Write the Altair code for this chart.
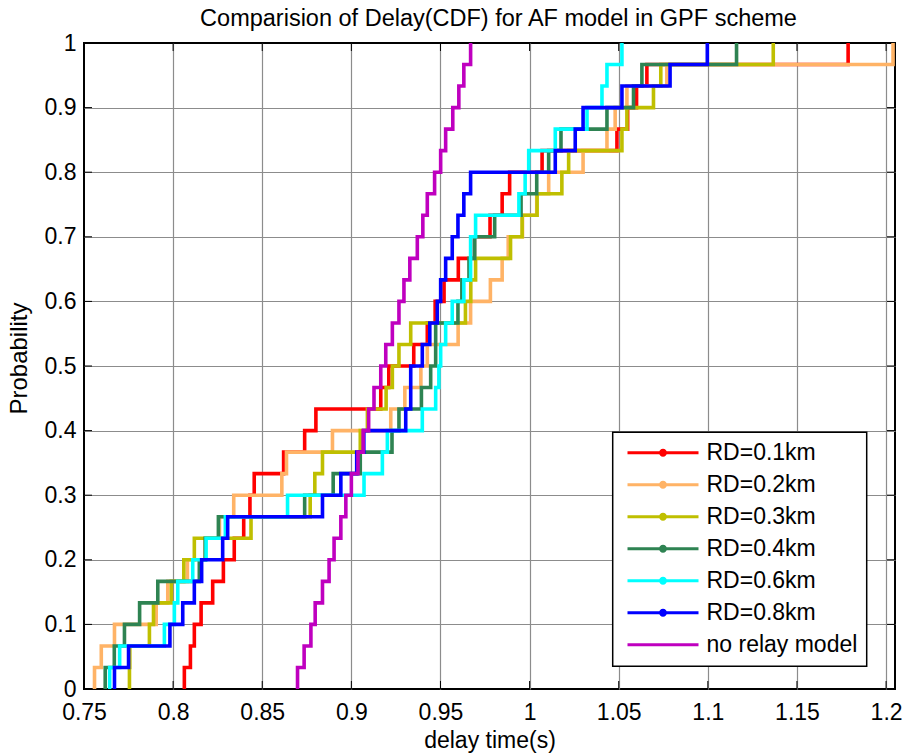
import altair as alt
import pandas as pd

# ---------------- data ----------------
series_names = ["RD=0.1km", "RD=0.2km", "RD=0.3km", "RD=0.4km",
                "RD=0.6km", "RD=0.8km", "no relay model"]
series_colors = ["#ff0000", "#ffb366", "#bfbf00", "#2e8352",
                 "#00ffff", "#0000ff", "#bf00bf"]

delay_rd01 = [0.8063, 0.8097, 0.8119, 0.8157, 0.8222, 0.8282, 0.8343, 0.8396,
              0.8431, 0.8455, 0.8620, 0.8738, 0.8801, 0.9165, 0.9210, 0.9350,
              0.9426, 0.9470, 0.9520, 0.9600, 0.9690, 0.9778, 0.9846, 0.9888,
              1.0070, 1.0490, 1.0550, 1.0600, 1.0658, 1.1787]
delay_rd02 = [0.7559, 0.7597, 0.7671, 0.7905, 0.7970, 0.8080, 0.8180, 0.8260,
              0.8340, 0.8610, 0.8636, 0.8894, 0.9221, 0.9300, 0.9390, 0.9426,
              0.9599, 0.9669, 0.9780, 0.9846, 0.9880, 0.9960, 1.0040, 1.0107,
              1.0300, 1.0434, 1.0480, 1.0546, 1.0770, 1.2039]
delay_rd03 = [0.7755, 0.7757, 0.7867, 0.7890, 0.7990, 0.8060, 0.8119, 0.8437,
              0.8769, 0.8795, 0.8838, 0.9050, 0.9090, 0.9195, 0.9230, 0.9267,
              0.9333, 0.9640, 0.9670, 0.9697, 0.9893, 0.9958, 1.0042, 1.0181,
              1.0219, 1.0518, 1.0546, 1.0695, 1.0736, 1.1367]
delay_rd04 = [0.7619, 0.7670, 0.7727, 0.7812, 0.7914, 0.8147, 0.8180, 0.8254,
              0.8738, 0.8898, 0.9050, 0.9228, 0.9267, 0.9393, 0.9445, 0.9473,
              0.9473, 0.9598, 0.9620, 0.9660, 0.9692, 0.9804, 0.9952, 1.0040,
              1.0107, 1.0176, 1.0434, 1.0583, 1.0630, 1.1161]
delay_rd06 = [0.7644, 0.7700, 0.7951, 0.8007, 0.8026, 0.8110, 0.8185, 0.8293,
              0.8642, 0.9071, 0.9174, 0.9202, 0.9398, 0.9473, 0.9491, 0.9501,
              0.9529, 0.9566, 0.9631, 0.9669, 0.9669, 0.9697, 0.9940, 0.9975,
              0.9995, 1.0144, 1.0322, 1.0406, 1.0434, 1.0518]
delay_rd08 = [0.7671, 0.7750, 0.7982, 0.8054, 0.8119, 0.8160, 0.8278, 0.8306,
              0.8838, 0.8941, 0.9030, 0.9070, 0.9305, 0.9333, 0.9333, 0.9398,
              0.9440, 0.9482, 0.9501, 0.9529, 0.9566, 0.9598, 0.9631, 0.9669,
              1.0144, 1.0256, 1.0300, 1.0518, 1.0788, 1.0997]
delay_norelay = [0.8698, 0.8735, 0.8773, 0.8797, 0.8838, 0.8875, 0.8903, 0.8941,
                 0.8969, 0.9000, 0.9037, 0.9066, 0.9097, 0.9127, 0.9165, 0.9193,
                 0.9230, 0.9267, 0.9295, 0.9328, 0.9370, 0.9401, 0.9426, 0.9467,
                 0.9501, 0.9529, 0.9569, 0.9603, 0.9631, 0.9669]

x_ticks = [0.75, 0.8, 0.85, 0.9, 0.95, 1.0, 1.05, 1.1, 1.15, 1.2]
y_ticks = [0, 0.1, 0.2, 0.3, 0.4, 0.5, 0.6, 0.7, 0.8, 0.9, 1.0]
x_domain = [0.75, 1.205]

all_delays = [delay_rd01, delay_rd02, delay_rd03, delay_rd04,
              delay_rd06, delay_rd08, delay_norelay]

# ---------------- empirical CDF table ----------------
rows = []
for name, vals in zip(series_names, all_delays):
    vs = sorted(vals)
    n = len(vs)
    rows.append({"series": name, "delay": vs[0], "prob": 0.0, "step": 0})
    for i, v in enumerate(vs, start=1):
        rows.append({"series": name, "delay": v, "prob": i / n, "step": i})
df = pd.DataFrame(rows)

FONT = "Liberation Sans"
W, H = 811, 646

x_scale = alt.Scale(domain=x_domain, nice=False, zero=False)
y_scale = alt.Scale(domain=[0, 1], nice=False, zero=False)

x_axis = alt.Axis(values=x_ticks, format="~g", title="delay time(s)",
                  labelFont=FONT, labelFontSize=23, labelColor="black",
                  labelPadding=12, labelFlush=False, ticks=False, tickSize=0,
                  domain=False, grid=True, gridColor="#8c8c8c", gridWidth=1.2,
                  gridOpacity={"condition": {"test": "datum.value <= 0.75", "value": 0}, "value": 1},
                  titleFont=FONT, titleFontSize=23, titleFontWeight="normal",
                  titleColor="black", titleY=58, titleBaseline="alphabetic")
y_axis = alt.Axis(values=y_ticks, format="~g", title="Probability",
                  labelFont=FONT, labelFontSize=23, labelColor="black",
                  labelPadding=8, labelFlush=False, ticks=False, tickSize=0,
                  domain=False, grid=True, gridColor="#8c8c8c", gridWidth=1.2,
                  gridOpacity={"condition": {"test": "datum.value <= 0 || datum.value >= 1", "value": 0}, "value": 1},
                  titleFont=FONT, titleFontSize=24, titleFontWeight="normal",
                  titleColor="black", titleAngle=270, titleX=-65, titleY=315,
                  titleBaseline="middle", titleAlign="center")

x_enc = alt.X("delay:Q", scale=x_scale, axis=x_axis)
y_enc = alt.Y("prob:Q", scale=y_scale, axis=y_axis)
color_scale = alt.Scale(domain=series_names, range=series_colors)

# legend symbols: line with a dot for RD series, plain line for "no relay"
path_dot = ("M-3.55,-0.15H3.55V0.15H-3.55Z"
            "M0.4,0A0.4,0.4,0,1,1,-0.4,0A0.4,0.4,0,1,1,0.4,0Z")
path_line = "M-3.55,-0.15H3.55V0.15H-3.55Z"
shape_paths = [path_dot] * 6 + [path_line]

legend_def = alt.Legend(title=None, orient="none", legendX=528.7, legendY=389.3,
                        labelFont=FONT, labelFontSize=23, labelColor="black",
                        labelLimit=0, symbolSize=400, symbolStrokeWidth=0,
                        symbolOffset=29.8, labelOffset=32, rowPadding=8,
                        padding=9, symbolOpacity=1)

# invisible (empty) point layer that only carries the legend; placed first
legend_layer = (
    alt.Chart(df).transform_filter("false")
    .mark_point(filled=True, opacity=1, size=400)
    .encode(x=x_enc, y=y_enc,
            color=alt.Color("series:N", scale=color_scale, legend=legend_def),
            shape=alt.Shape("series:N",
                            scale=alt.Scale(domain=series_names, range=shape_paths),
                            legend=legend_def))
)

# inward tick marks (MATLAB style) on all four sides
xt = pd.DataFrame({"delay": x_ticks})
yt = pd.DataFrame({"prob": y_ticks})
tick_layers = [
    alt.Chart(xt).mark_rule(color="black", strokeWidth=1).encode(
        x=x_enc, y=alt.value(H), y2=alt.value(H - 8)),
    alt.Chart(xt).mark_rule(color="black", strokeWidth=1).encode(
        x=x_enc, y=alt.value(0), y2=alt.value(8)),
    alt.Chart(yt).mark_rule(color="black", strokeWidth=1).encode(
        y=y_enc, x=alt.value(0), x2=alt.value(8)),
    alt.Chart(yt).mark_rule(color="black", strokeWidth=1).encode(
        y=y_enc, x=alt.value(W), x2=alt.value(W - 8)),
]

# one layer per series so the drawing order matches the reference
line_layers = []
for name in series_names:
    line_layers.append(
        alt.Chart(df).transform_filter(alt.datum.series == name)
        .mark_line(interpolate="step-after", strokeWidth=3.6)
        .encode(x=x_enc, y=y_enc,
                color=alt.Color("series:N", scale=color_scale, legend=None),
                order=alt.Order("step:Q"))
    )

chart = (
    alt.layer(legend_layer, *tick_layers, *line_layers)
    .properties(
        width=W, height=H,
        title=alt.TitleParams(
            text="Comparision of Delay(CDF) for AF model in GPF scheme",
            font=FONT, fontSize=23.5, fontWeight="normal", color="black",
            anchor="middle", frame="group", offset=5, baseline="alphabetic",
            dx=9, dy=22),
        padding={"left": 84, "top": 43, "right": 12, "bottom": 65},
        autosize=alt.AutoSizeParams(type="none"),
        background="white",
    )
    .configure_view(stroke="black", strokeWidth=2)
    .configure_legend(strokeColor="black", strokeWidth=1.5, fillColor="white",
                      cornerRadius=0)
)

chart.save("out.html", embed_options={"renderer": "svg", "actions": False})
